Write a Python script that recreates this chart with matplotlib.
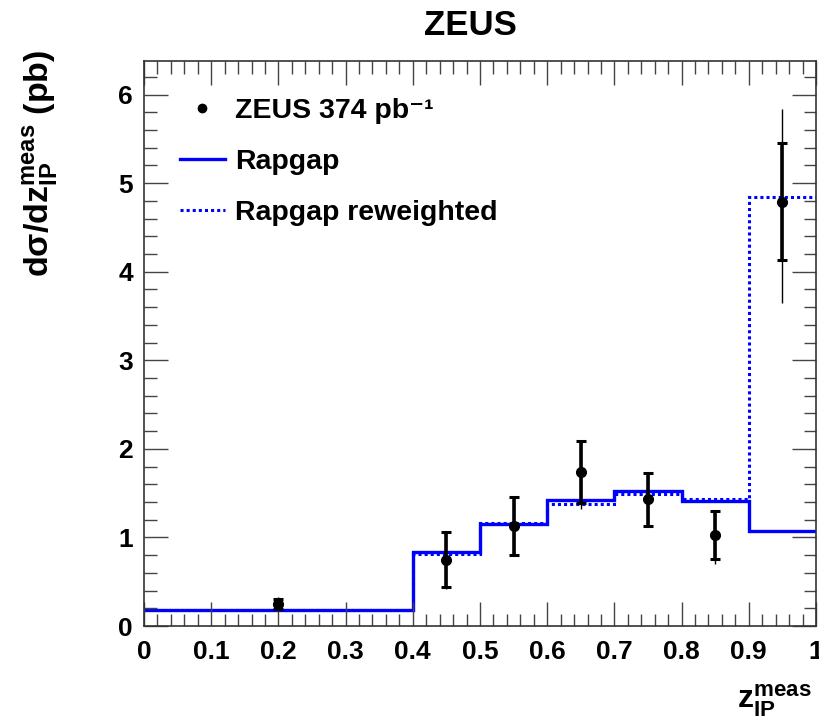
import matplotlib
matplotlib.use("Agg")
import matplotlib.pyplot as plt
from matplotlib.lines import Line2D
from matplotlib.ticker import MultipleLocator
import numpy as np

# ---- data ----
bin_edges = [0.0, 0.4, 0.5, 0.6, 0.7, 0.8, 0.9, 1.0]
rapgap = [0.18, 0.84, 1.15, 1.42, 1.53, 1.41, 1.07]
rapgap_rew = [0.18, 0.81, 1.16, 1.38, 1.49, 1.43, 4.84]
data_x = [0.2, 0.45, 0.55, 0.65, 0.75, 0.85, 0.95]
data_y = [0.25, 0.75, 1.13, 1.74, 1.43, 1.03, 4.79]
stat_err = [0.06, 0.31, 0.33, 0.35, 0.30, 0.27, 0.66]
tot_err_up = [0.08, 0.31, 0.33, 0.35, 0.30, 0.27, 1.05]
tot_err_dn = [0.08, 0.33, 0.34, 0.42, 0.30, 0.33, 1.14]
xtick_labels = ['0', '0.1', '0.2', '0.3', '0.4', '0.5', '0.6', '0.7', '0.8', '0.9', '1']
legend_labels = ['ZEUS 374 pb\u207b\u00b9', 'Rapgap', 'Rapgap reweighted']

plt.rcParams['font.family'] = ['Liberation Sans', 'DejaVu Sans']
plt.rcParams['font.weight'] = 'bold'
plt.rcParams['mathtext.fontset'] = 'custom'
plt.rcParams['mathtext.rm'] = 'Liberation Sans:bold'
plt.rcParams['mathtext.bf'] = 'Liberation Sans:bold'
plt.rcParams['mathtext.it'] = 'Liberation Sans:bold'
plt.rcParams['mathtext.sf'] = 'Liberation Sans:bold'
plt.rcParams['mathtext.default'] = 'rm'

W, H = 820, 722
fig = plt.figure(figsize=(W / 100, H / 100), dpi=100)
ax = fig.add_axes([144 / W, 96 / H, 672 / W, 565 / H])

blue = '#0000ff'
ax.stairs(rapgap_rew, bin_edges, baseline=None, color=blue, lw=2.2, ls=(0, (1, 1)))
ax.stairs(rapgap, bin_edges, baseline=None, color=blue, lw=2.4)

# total errors (thin)
ax.errorbar(data_x, data_y, yerr=[tot_err_dn, tot_err_up], fmt='none',
            ecolor='black', elinewidth=1.0, capsize=0)
# statistical errors (thick with caps)
ax.errorbar(data_x, data_y, yerr=stat_err, fmt='o', color='black', ms=7,
            ecolor='black', elinewidth=2.6, capsize=3.5, capthick=2.2)

ax.set_xlim(0, 1)
ax.set_ylim(0, 6.38)

ax.set_xticks(np.arange(0, 1.01, 0.1))
ax.set_xticklabels(xtick_labels)
ax.xaxis.set_minor_locator(MultipleLocator(0.02))
ax.yaxis.set_major_locator(MultipleLocator(1))
ax.yaxis.set_minor_locator(MultipleLocator(0.2))
ax.tick_params(which='both', direction='in', top=True, right=True, width=1.0, color='#444444')
ax.tick_params(which='major', length=17, labelsize=19)
ax.tick_params(axis='x', which='major', pad=10)
ax.tick_params(axis='y', which='major', pad=8)
ax.tick_params(which='minor', length=9)
for s in ax.spines.values():
    s.set_linewidth(1.2)
    s.set_color('#333333')

fig.text(470 / W, 1 - 35 / H, 'ZEUS', ha='center', va='baseline', fontsize=25, fontweight='bold')
fig.text(41 / W, 1 - 50 / H, r'd$\sigma$/dz$_{IP}^{meas}$ (pb)', rotation=90,
         ha='center', va='top', fontsize=24.5, fontweight='bold')
fig.text(812 / W, 1 - 708 / H, r'z$_{IP}^{meas}$', ha='right', va='baseline',
         fontsize=23, fontweight='bold')

handles = [Line2D([], [], marker='o', color='black', ls='none', ms=6),
           Line2D([], [], color=blue, lw=2.4),
           Line2D([], [], color=blue, lw=2.2, ls=(0, (1, 1)))]
ax.legend(handles, legend_labels, loc='upper left', bbox_to_anchor=(36 / 672, (626 - 98) / 565),
          frameon=False, fontsize=20.5, handlelength=1.58, labelspacing=0.87,
          handletextpad=0.35, borderpad=0, borderaxespad=0)

fig.savefig('out.png', dpi=100)
